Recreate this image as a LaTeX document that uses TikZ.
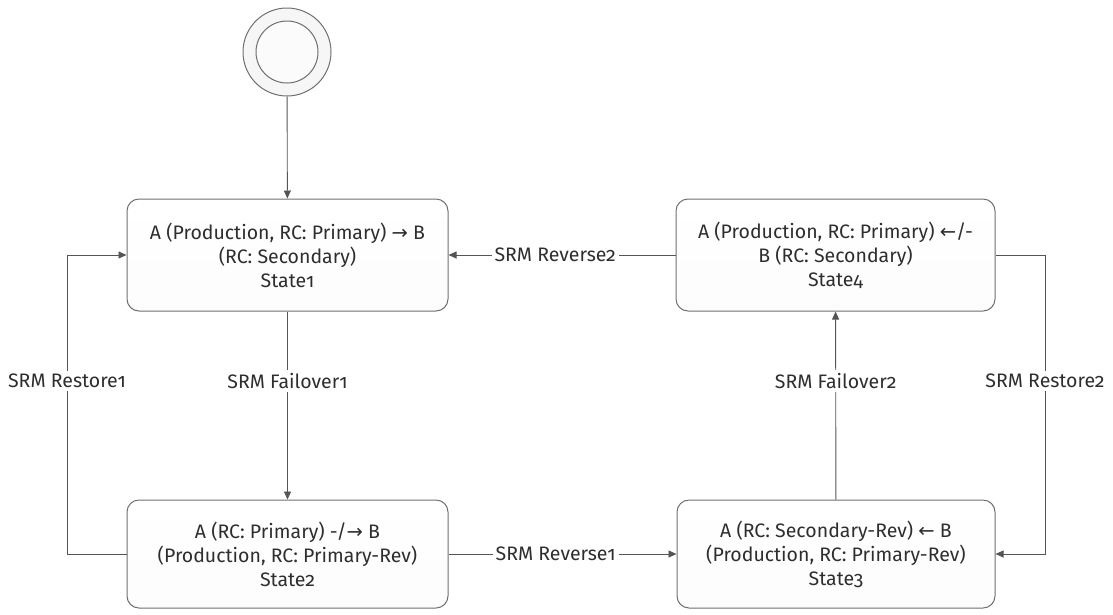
\documentclass[tikz,border=0pt]{standalone}
\usepackage{fontspec}
\setmainfont{Fira Sans}[Numbers=OldStyle]
\newfontfamily\symfont{DejaVu Sans}
\usepackage{tikz}
\usetikzlibrary{arrows.meta,positioning,calc}
\definecolor{sline}{HTML}{555555}
\definecolor{sframe}{HTML}{707070}
\definecolor{sfill}{HTML}{F6F6F6}
\definecolor{stext}{HTML}{2E2E2E}
\newcommand{\rarr}{{\symfont →}}
\newcommand{\larr}{{\symfont ←}}

\begin{document}
\begin{tikzpicture}[x=1pt,y=-1pt,
  every node/.style={font=\fontsize{19.5}{24}\selectfont,text=stext},
  state/.style={draw=sframe,line width=1pt,top color=white,bottom color=sfill!90!black!8,
    rounded corners=12pt,align=center,minimum height=112pt},
  trans/.style={draw=sline,line width=0.9pt,-{Triangle[length=8pt,width=7pt]}},
  lbl/.style={fill=white,inner sep=3pt}]
  \useasboundingbox (0,0) rectangle (1113,614);

  % start point
  \node[circle,draw=sframe,line width=1pt,fill=sfill,minimum size=88pt] (start) at (287,52) {};
  \node[circle,draw=sframe,line width=1pt,fill=white!60!sfill,minimum size=62pt] at (start) {};

  % the four states
  \node[state,minimum width=321pt] (state1) at (287.5,255)
    {A (Production, RC: Primary) \rarr\ B\\(RC: Secondary)\\State1};
  \node[state,minimum width=319pt] (state4) at (835.5,255)
    {A (Production, RC: Primary) \larr/-\\B (RC: Secondary)\\State4};
  \node[state,minimum width=321pt,minimum height=108pt] (state2) at (287.5,554)
    {A (RC: Primary) -/\rarr\ B\\(Production, RC: Primary-Rev)\\State2};
  \node[state,minimum width=318pt,minimum height=108pt] (state3) at (836,554)
    {A (RC: Secondary-Rev) \larr\ B\\(Production, RC: Primary-Rev)\\State3};

  \coordinate (r1b) at (67,554);
  \coordinate (r1t) at (67,255);
  \coordinate (r2t) at (1045,255);
  \coordinate (r2b) at (1045,554);

  % transitions
  \draw[trans] (start) -- (state1);
  \draw[trans] (state1) -- node[lbl,pos=0.37] {SRM Failover1} (state2);
  \draw[trans] (state2) -- node[lbl,pos=0.47] {SRM Reverse1} (state3);
  \draw[trans] (state3) -- node[lbl,pos=0.63] {SRM Failover2} (state4);
  \draw[trans] (state4) -- node[lbl,pos=0.53] {SRM Reverse2} (state1);
  \draw[trans] (state2.west) -- (r1b) -- node[lbl,pos=0.58] {SRM Restore1} (r1t) -- (state1.west);
  \draw[trans] (state4.east) -- (r2t) -- node[lbl,pos=0.42] {SRM Restore2} (r2b) -- (state3.east);
\end{tikzpicture}
\end{document}
